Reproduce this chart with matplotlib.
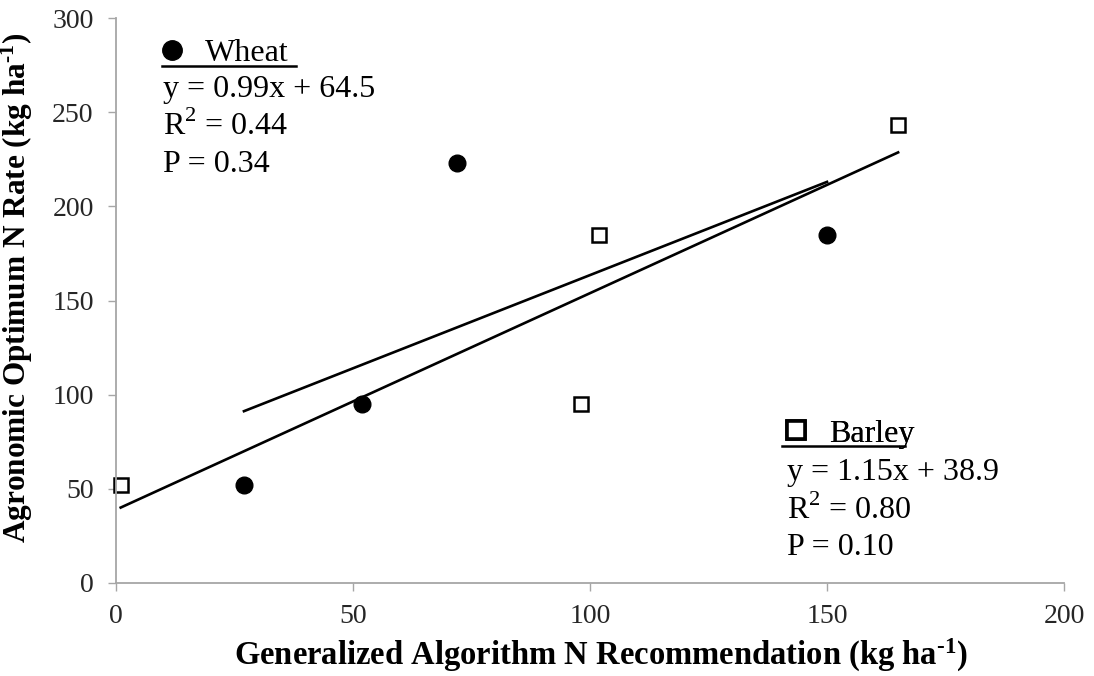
import matplotlib
matplotlib.use("Agg")
import matplotlib.pyplot as plt
import numpy as np
from matplotlib.lines import Line2D

plt.rcParams["font.family"] = ["Liberation Serif", "DejaVu Serif"]
plt.rcParams["mathtext.fontset"] = "custom"
plt.rcParams["mathtext.rm"] = "Liberation Serif"
plt.rcParams["mathtext.bf"] = "Liberation Serif:bold"

# Wheat data (filled circles)
wheat_x = [27, 52, 72, 150]
wheat_y = [52, 95, 223, 185]
wheat_fit = (0.99, 64.5)
wheat_stats = ["y = 0.99x + 64.5", "R$^2$ = 0.44", "P = 0.34"]

# Barley data (open squares)
barley_x = [1, 98, 102, 165]
barley_y = [52, 95, 185, 243]
barley_fit = (1.15, 38.9)
barley_stats = ["y = 1.15x + 38.9", "R$^2$ = 0.80", "P = 0.10"]

x_ticks = [0, 50, 100, 150, 200]
y_ticks = [0, 50, 100, 150, 200, 250, 300]

fig = plt.figure(figsize=(10.94, 6.76), dpi=100)
ax = fig.add_axes([0.106, 0.1376, 0.8666, 0.8357])

# Points
ax.plot(wheat_x, wheat_y, "o", color="black", markersize=12, clip_on=False)
ax.plot(barley_x, barley_y, "s", markerfacecolor="white", markeredgecolor="black",
        markeredgewidth=1.8, markersize=10.5, clip_on=False)

# Trend lines across each series' x range
for xs, (m, b) in [(wheat_x, wheat_fit), (barley_x, barley_fit)]:
    xx = np.array([min(xs), max(xs)])
    ax.plot(xx, m * xx + b, color="black", linewidth=1.9)

ax.set_xlim(0, 200)
ax.set_ylim(0, 300)
ax.set_xticks(x_ticks)
ax.set_yticks(y_ticks)

for side in ["top", "right"]:
    ax.spines[side].set_visible(False)
for side in ["left", "bottom"]:
    ax.spines[side].set_color("#a6a6a6")
    ax.spines[side].set_linewidth(1.3)
ax.tick_params(axis="both", direction="out", color="#a6a6a6", width=1.0,
               length=6, labelsize=20, labelcolor="#262626")
ax.tick_params(axis="x", pad=9)
ax.tick_params(axis="y", pad=10)

ax.set_xlabel("Generalized Algorithm N Recommendation (kg ha$\\mathbf{^{\u20101}}$)",
              fontsize=23.5, fontweight="bold")
ax.set_ylabel("Agronomic Optimum N Rate (kg ha$\\mathbf{^{\u20101}}$)",
              fontsize=22.5, fontweight="bold")
ax.xaxis.set_label_coords(0.511, -0.095)
ax.yaxis.set_label_coords(-0.085, 0.523)


# Legend-like blocks: marker + name, underline, then regression stats
def stat_block(handle, name, stats, x0, y0, ul, text_x, y_first):
    leg = ax.legend(handles=[handle], labels=[name], loc="upper left",
                    bbox_to_anchor=(x0, y0), frameon=False, fontsize=23,
                    handlelength=1.0, handletextpad=0.55, borderpad=0,
                    borderaxespad=0)
    ax.add_artist(leg)
    ax.plot(ul[0], ul[1], color="black", linewidth=1.8,
            transform=ax.transAxes, clip_on=False)
    for i, s in enumerate(stats):
        ax.text(text_x, y_first - i * 0.0665, s, fontsize=23,
                transform=ax.transAxes, ha="left", va="center")


wheat_handle = Line2D([], [], marker="o", ls="none", color="black", markersize=14)
barley_handle = Line2D([], [], marker="s", ls="none", markerfacecolor="white",
                       markeredgecolor="black", markeredgewidth=2.6, markersize=13)

stat_block(wheat_handle, "Wheat", wheat_stats, 0.042, 0.963,
           ([0.0485, 0.190], [0.915, 0.915]), 0.050, 0.874)
stat_block(barley_handle, "Barley", barley_stats, 0.700, 0.29,
           ([0.702, 0.832], [0.243, 0.243]), 0.708, 0.195)

fig.savefig("out.png", dpi=100)
